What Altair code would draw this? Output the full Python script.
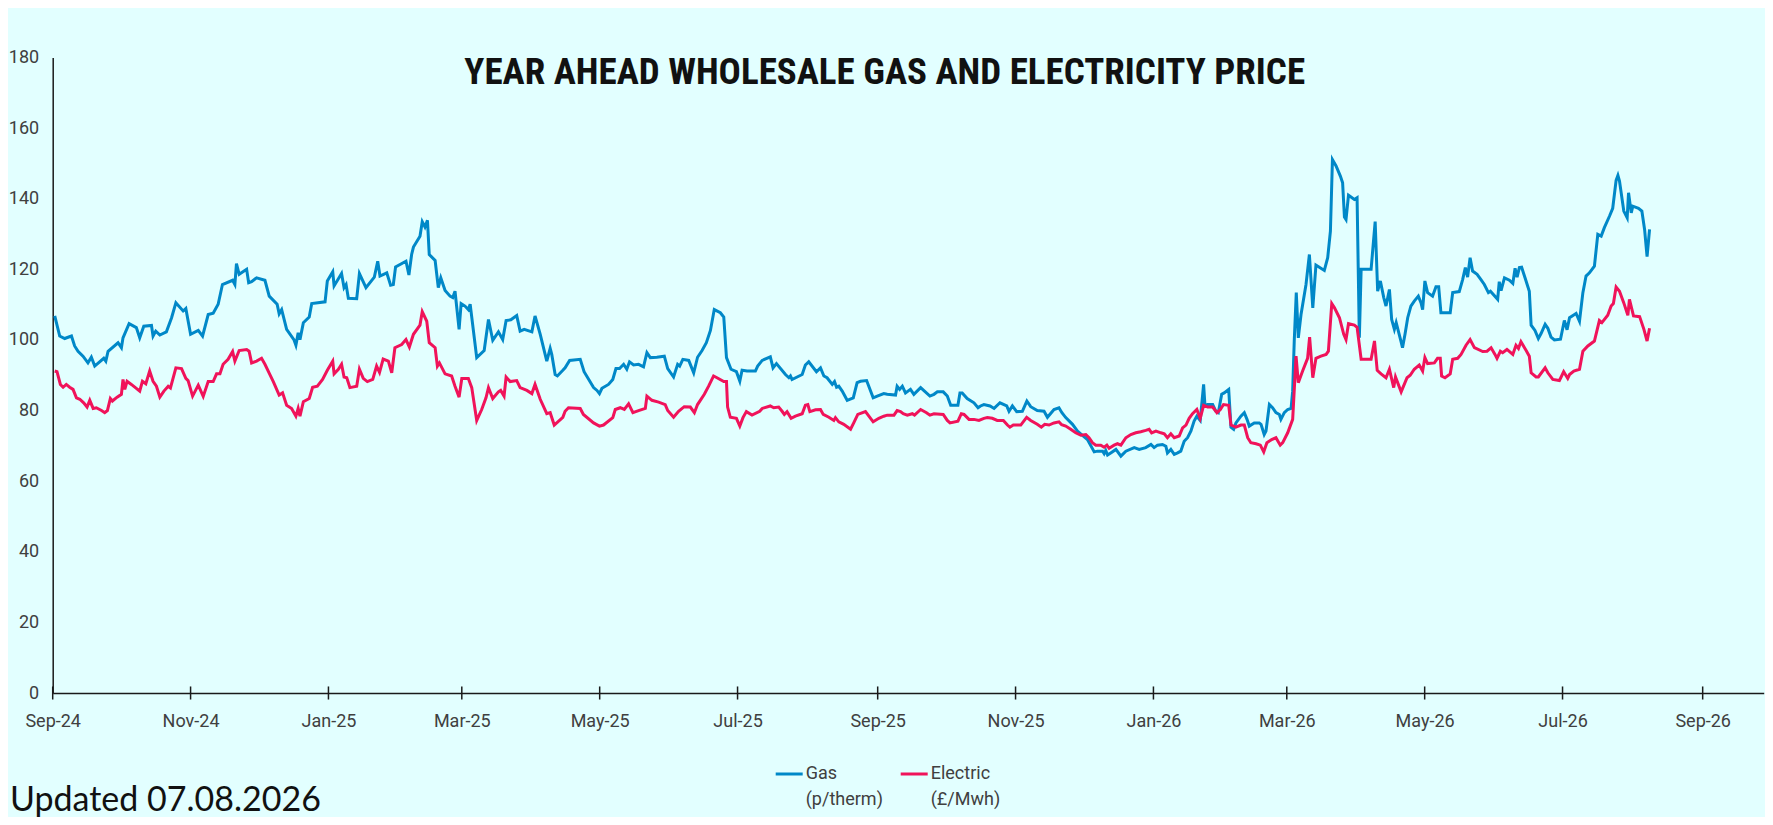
import altair as alt
import pandas as pd

TITLE = ["YEAR AHEAD WHOLESALE GAS AND ELECTRICITY PRICE"]
UPDATED = ["Updated 07.08.2026"]
SERIES = ["Gas", "Electric"]
LEGEND_LABELS = ["Gas\n(p/therm)", "Electric\n(£/Mwh)"]
COLORS = ["#0088C8", "#F0135A"]
Y_TICKS = [0, 20, 40, 60, 80, 100, 120, 140, 160, 180]
X_TICK_MONTHS = [(2024, 9), (2024, 11), (2025, 1), (2025, 3), (2025, 5), (2025, 7),
                 (2025, 9), (2025, 11), (2026, 1), (2026, 3), (2026, 5), (2026, 7), (2026, 9)]
START = "2024-09-01"   # day 0 of the day offsets below

# Gas, p/therm  (days since 2024-09-01, value)
gas_day = [0.9, 3.1, 5.3, 8.3, 9.7, 11.2, 13.4, 15.6, 17.1, 18.6, 22.6, 23.5, 24.5, 28.9, 30.4, 31.1,
           33.8, 37.0, 38.5, 40.3, 43.7, 44.4, 45.6, 47.4, 50.3, 52.6, 54.5, 57.7, 58.9, 61.0, 64.4,
           66.3, 68.8, 71.0, 73.2, 75.1, 79.6, 80.6, 81.3, 82.5, 85.8, 86.7, 88.0, 90.2, 93.9, 95.8,
           99.3, 100.2, 101.3, 103.5, 106.7, 107.6, 108.6, 109.4, 110.9, 113.5, 114.6, 120.5, 121.5,
           123.9, 124.5, 127.8, 128.9, 129.8, 130.8, 134.5, 135.7, 138.6, 142.3, 143.8, 144.8,
           147.8, 149.5, 150.7, 151.7, 156.3, 157.6, 158.8, 159.6, 162.5, 163.5, 164.7, 165.8, 166.6,
           169.2, 170.6, 171.7, 173.6, 175.8, 177.0, 178.0, 179.8, 180.7, 182.4, 183.9, 184.7, 187.6,
           190.9, 192.8, 194.7, 197.2, 199.1, 200.6, 202.7, 205.3, 206.8, 208.6, 212.0, 213.4, 215.7,
           218.6, 220.1, 220.8, 222.3, 223.3, 225.7, 226.7, 228.7, 233.4, 235.1, 239.3, 240.8, 241.9,
           243.0, 245.9, 247.8, 249.2, 250.8, 252.6, 254.0, 255.2, 257.0, 259.2, 261.4, 262.9, 264.4,
           267.3, 270.6, 272.1, 274.7, 276.5, 277.4, 278.8, 281.4, 283.6, 285.3, 287.3, 289.2, 291.0,
           292.7, 295.4, 296.9, 298.1, 300.1, 302.5, 304.0, 305.0, 307.2, 310.9, 311.9, 313.9, 317.5,
           318.7, 320.2, 324.2, 325.7, 326.4, 327.1, 331.6, 333.0, 334.5, 337.9, 339.7, 341.2, 342.6,
           344.9, 345.9, 346.8, 347.8, 349.3, 351.5, 354.2, 355.9, 357.4, 360.1, 363.0, 364.8, 367.7,
           369.2, 372.9, 373.6, 374.7, 375.9, 377.3, 379.5, 381.0, 384.0, 388.1, 389.9, 391.4, 394.0,
           395.8, 397.3, 400.5, 401.4, 402.4, 404.6, 407.6, 409.4, 410.5, 412.0, 414.7, 416.5, 419.1,
           422.1, 423.1, 424.6, 426.5, 429.0, 431.0, 432.7, 435.6, 438.6, 440.1, 443.0, 445.2, 446.5,
           448.2, 451.2, 453.4, 455.6, 457.8, 460.8, 462.2, 464.5, 465.2, 465.9, 466.7, 468.1, 470.4,
           472.6, 474.8, 478.5, 480.7, 483.6, 485.9, 487.3, 488.8, 491.0, 492.5, 493.2, 494.7, 496.2,
           497.7, 499.1, 500.6, 502.1, 503.6, 505.0, 506.2, 507.7, 509.2, 509.8, 511.0, 513.2, 514.6,
           515.7, 517.2, 518.3, 520.3, 521.3, 522.5, 523.5, 525.7, 527.2, 528.4, 529.4, 531.6, 533.8,
           534.6, 536.0, 536.8, 538.3, 539.7, 541.2, 542.7, 543.4, 544.9, 546.4, 547.9, 548.6, 549.3,
           550.2, 551.1, 552.3, 554.5, 556.0, 557.5, 558.9, 560.4, 562.6, 564.1, 565.3, 566.2, 567.8,
           569.7, 570.7, 571.5, 572.2, 573.3, 574.4, 575.9, 577.1, 578.1, 578.9, 583.3, 585.1, 586.2,
           587.4, 588.9, 589.9, 591.4, 592.4, 593.6, 594.4, 596.5, 597.2, 598.3, 599.5, 600.9, 602.4,
           604.2, 605.4, 606.1, 607.1, 608.3, 610.5, 612.0, 613.2, 614.2, 618.3, 619.4, 622.3, 623.8,
           625.0, 626.0, 627.1, 628.2, 630.2, 631.9, 633.4, 635.2, 636.1, 639.3, 640.0, 640.8, 642.3,
           644.5, 646.0, 647.0, 647.9, 648.9, 649.9, 651.4, 653.3, 654.1, 655.8, 657.3, 658.5, 660.3,
           661.5, 662.9, 664.4, 667.1, 668.8, 670.0, 671.1, 673.3, 674.0, 675.5, 677.0, 678.4, 679.9,
           682.1, 683.6, 685.1, 686.5, 688.8, 690.2, 691.7, 692.5, 693.2, 695.1, 696.6, 697.2, 698.4,
           699.1, 701.6, 703.1, 704.3, 705.4, 706.5]
gas_value = [106.8, 101.1, 100.4, 101.1, 98.3, 96.8, 95.4, 93.5, 95.1, 92.6, 94.8, 94.0, 96.8, 99.2, 97.8, 100.6,
             104.6, 103.5, 100.6, 103.9, 104.1, 101.1, 102.5, 101.4, 102.3, 106.3, 110.5, 108.2, 108.9, 101.6, 102.7,
             101.1, 107.2, 107.6, 110.1, 115.7, 116.9, 115.7, 121.6, 118.6, 120.0, 116.2, 116.5, 117.6, 116.9, 112.4,
             110.1, 107.4, 108.6, 103.0, 100.1, 98.5, 102.0, 100.1, 104.9, 106.5, 110.3, 110.8, 116.7,
             119.3, 115.3, 118.8, 114.8, 115.7, 111.8, 111.7, 118.8, 114.8, 117.8, 122.3, 118.1,
             119.0, 115.5, 115.7, 120.7, 122.3, 118.4, 124.2, 126.3, 129.4, 133.5, 132.0, 133.9, 124.2,
             122.5, 114.8, 117.6, 114.0, 112.4, 112.0, 113.8, 103.0, 110.3, 109.6, 108.6, 110.1, 95.0,
             97.0, 105.8, 99.9, 102.3, 100.1, 105.5, 105.7, 106.9, 102.5, 103.0, 102.3, 106.8, 101.6,
             94.0, 97.6, 95.9, 90.2, 89.8, 91.4, 92.1, 94.2, 94.5, 91.0, 86.5, 85.7, 84.8,
             86.3, 87.4, 88.8, 91.9, 91.9, 93.1, 91.7, 93.8, 92.9, 93.1, 92.4, 96.4, 95.0,
             95.1, 95.4, 91.9, 89.5, 93.1, 92.6, 94.5, 94.2, 90.7, 95.1, 97.0, 99.2, 102.7,
             108.6, 107.7, 106.5, 95.0, 91.7, 91.0, 88.3, 91.4, 91.2, 91.2, 92.6, 94.2, 95.2,
             92.1, 93.3, 90.2, 89.3, 89.8, 88.8, 90.2, 92.9, 93.8, 91.0, 92.1, 89.8, 89.3,
             87.4, 88.2, 86.6, 86.9, 85.5, 82.9, 83.6, 87.9, 88.3, 88.5, 83.6, 84.1, 84.8,
             84.6, 84.4, 86.9, 86.0, 86.9, 85.0, 86.0, 84.6, 86.5, 84.1, 84.6, 85.3, 85.3,
             84.1, 81.5, 81.5, 85.0, 85.0, 83.4, 82.2, 80.8, 81.3, 81.7, 81.3, 80.6, 82.2,
             81.3, 79.8, 81.3, 79.7, 79.8, 82.7, 81.1, 80.0, 79.8, 78.1, 80.3, 80.8, 79.4,
             78.0, 76.1, 74.2, 73.0, 71.8, 68.3, 68.5, 68.5, 67.8, 68.7, 67.4, 68.0, 69.0,
             67.1, 68.5, 69.5, 69.0, 69.5, 70.4, 69.5, 70.2, 70.4, 69.9, 68.0, 69.0, 67.6,
             68.0, 68.5, 71.3, 72.3, 74.2, 77.0, 78.4, 77.2, 87.4, 81.3, 81.7, 81.7, 79.8,
             79.4, 84.6, 85.0, 86.0, 75.3, 74.7, 76.5, 78.4, 79.4, 77.5, 75.6, 76.5, 76.5,
             76.1, 73.2, 74.2, 81.7, 80.8, 79.4, 78.9, 77.5, 79.4, 80.3, 80.6, 85.5, 99.7,
             113.4, 100.6, 107.2, 115.7, 124.2, 109.1, 121.2, 120.6, 119.7, 123.3, 130.8, 151.1, 149.3,
             146.4, 144.5, 134.8, 134.1, 141.0, 140.5, 139.8, 140.3, 100.6, 120.0, 120.0, 133.5, 113.8,
             116.7, 112.0, 109.6, 114.3, 105.8, 103.0, 104.9, 99.7, 97.8, 101.6, 106.3, 109.6, 111.0,
             112.4, 110.5, 108.6, 116.7, 113.4, 112.4, 115.1, 115.1, 107.7, 107.7, 113.4, 113.7, 117.1,
             120.5, 117.8, 123.3, 119.5, 118.6, 117.1, 115.7, 113.4, 113.8, 111.5, 116.5, 114.0, 117.6,
             116.9, 116.0, 120.3, 117.8, 120.5, 120.6, 117.6, 113.8, 104.2, 102.7, 100.4, 101.8, 104.4,
             103.3, 100.8, 100.0, 100.2, 105.5, 102.9, 106.3, 107.2, 107.5, 105.3, 113.4, 118.1, 119.0,
             120.9, 129.9, 129.4, 131.8, 135.1, 137.3, 145.2, 146.6, 145.0, 136.5, 134.6, 141.7, 136.0,
             137.9, 137.3, 136.5, 131.3, 123.6, 131.3]

# Electric, GBP/MWh  (days since 2024-09-01, value)
elec_day = [0.9, 1.9, 3.4, 4.6, 6.0, 7.5, 9.0, 10.5, 12.0, 13.7, 15.2, 16.4, 17.9, 19.3, 21.6, 23.0, 24.2,
            25.5, 26.4, 28.5, 30.4, 31.1, 31.9, 32.9, 34.8, 37.0, 38.5, 39.7, 41.2, 42.9, 44.4, 45.9,
            47.4, 49.2, 51.1, 52.1, 54.5, 57.0, 58.9, 59.9, 61.9, 64.4, 66.6, 68.8, 71.0, 72.5, 74.0,
            75.4, 77.6, 79.6, 80.6, 82.5, 85.8, 86.9, 88.0, 90.2, 92.4, 93.9, 96.1, 97.6, 100.2, 101.7,
            103.5, 105.7, 107.6, 108.6, 109.4, 110.9, 113.5, 115.0, 117.1, 119.4, 121.5, 123.9, 124.5,
            126.4, 127.8, 128.9, 130.1, 131.5, 134.5, 135.7, 137.4, 139.2, 141.6, 143.3, 144.6, 146.2,
            148.5, 150.0, 151.4, 154.4, 156.3, 157.8, 159.6, 162.5, 163.5, 165.5, 166.6, 169.2, 170.2,
            171.1, 173.6, 176.5, 178.0, 179.8, 181.0, 183.9, 185.4, 187.6, 189.8, 191.7, 192.8, 194.7,
            197.2, 198.2, 199.7, 200.6, 202.4, 205.3, 206.8, 209.8, 212.0, 213.4, 215.7, 218.6, 220.1,
            221.9, 225.7, 226.7, 228.2, 233.4, 234.8, 239.3, 241.9, 243.7, 247.8, 248.9, 251.1, 252.9,
            254.8, 256.7, 259.2, 262.2, 262.9, 265.1, 268.1, 271.0, 272.1, 274.7, 276.9, 279.4, 282.1,
            283.9, 285.3, 288.3, 290.2, 292.4, 293.9, 296.9, 298.1, 298.6, 299.8, 302.5, 304.0, 305.4,
            306.9, 309.4, 312.8, 313.9, 317.5, 319.0, 321.2, 322.7, 323.7, 324.9, 326.7, 328.6, 331.6,
            333.0, 334.1, 335.0, 337.5, 339.7, 340.9, 343.4, 345.6, 346.3, 347.8, 350.0, 353.0, 354.4,
            356.2, 359.6, 363.0, 365.5, 367.7, 369.2, 372.2, 373.6, 375.1, 376.3, 378.1, 380.3, 381.3,
            384.0, 386.6, 388.1, 389.9, 394.0, 395.8, 397.0, 400.5, 402.0, 403.2, 405.4, 407.6, 409.8,
            412.0, 413.5, 415.7, 417.9, 420.6, 422.4, 423.5, 425.0, 428.3, 430.9, 432.7, 435.6, 437.4,
            438.9, 440.8, 443.0, 445.2, 446.4, 448.2, 450.4, 452.6, 454.9, 457.1, 458.5, 460.0, 461.5,
            463.7, 465.2, 466.4, 467.4, 469.6, 471.1, 472.6, 474.8, 477.0, 479.2, 481.4, 483.6, 485.1,
            486.2, 488.1, 490.3, 491.8, 493.2, 494.7, 496.2, 498.4, 499.9, 501.4, 502.8, 504.3, 506.2,
            507.7, 509.2, 511.0, 513.2, 515.1, 516.6, 518.0, 520.3, 521.3, 523.5, 525.7, 527.2, 528.7,
            530.1, 532.4, 534.3, 535.8, 537.2, 539.3, 541.2, 543.1, 544.2, 546.4, 548.6, 550.1, 551.1,
            553.0, 555.2, 556.1, 557.5, 558.9, 561.1, 563.4, 564.4, 565.9, 567.1, 569.3, 571.2, 572.2,
            573.3, 575.9, 577.1, 578.9, 583.3, 584.8, 586.0, 587.7, 589.9, 591.4, 593.3, 594.1, 596.6,
            599.2, 600.6, 602.4, 604.6, 606.1, 607.1, 608.3, 611.3, 612.7, 613.9, 614.5, 616.0, 618.3,
            619.4, 621.6, 623.1, 625.3, 627.1, 629.0, 632.7, 634.6, 636.4, 638.1, 639.0, 640.5, 641.5,
            643.4, 646.0, 647.4, 648.5, 649.6, 651.9, 653.3, 654.1, 656.3, 657.3, 660.3, 661.5, 663.7,
            666.6, 668.5, 670.3, 671.1, 673.0, 675.5, 677.0, 679.2, 682.1, 684.3, 685.4, 688.0, 689.5,
            690.5, 691.7, 693.2, 695.1, 696.9, 697.6, 699.4, 702.1, 704.0, 705.4, 706.5]
elec_value = [91.2, 91.0, 87.4, 86.6, 87.4, 86.6, 86.0, 83.6, 83.2, 82.2, 81.0, 82.9, 80.6, 80.8, 80.0, 79.4, 80.0,
              83.4, 82.7, 83.8, 84.6, 88.8, 86.0, 88.3, 87.4, 86.3, 85.5, 88.3, 87.6, 91.2, 88.3, 86.9,
              83.8, 85.5, 86.9, 86.4, 92.1, 91.9, 89.1, 88.5, 84.1, 87.2, 84.0, 88.2, 88.2, 90.4, 90.4,
              93.1, 94.5, 96.7, 94.0, 97.0, 97.3, 96.8, 93.5, 94.0, 94.8, 93.1, 90.2, 88.2, 84.4, 85.0,
              81.5, 80.6, 78.4, 80.6, 78.4, 82.5, 83.4, 86.6, 86.9, 88.8, 91.4, 94.0, 90.4,
              91.7, 93.1, 89.5, 89.3, 86.5, 86.9, 91.7, 89.1, 88.2, 88.8, 92.6, 90.8, 94.6,
              94.0, 90.7, 97.8, 98.7, 100.1, 98.0, 101.6, 104.2, 108.0, 105.3, 99.2, 97.8, 92.6,
              93.5, 90.4, 89.8, 86.9, 83.8, 89.1, 89.1, 86.5, 77.2, 80.3, 83.6, 86.5, 83.4,
              85.3, 85.7, 84.1, 89.5, 88.2, 88.5, 86.5, 85.7, 84.8, 87.4, 83.2, 79.1, 79.4,
              75.9, 78.1, 79.8, 80.8, 80.6, 78.9, 76.5, 75.6, 75.9, 78.0, 80.3, 80.8, 80.3,
              81.9, 79.4, 80.0, 80.6, 84.1, 82.9, 82.4, 81.7, 80.0, 78.1, 79.8, 81.1, 81.0,
              79.4, 81.7, 84.6, 86.9, 89.8, 89.3, 88.2, 88.2, 81.0, 78.1, 77.8, 75.6, 78.0,
              79.7, 78.7, 79.8, 80.6, 81.3, 80.8, 81.0, 79.8, 78.9, 79.7, 77.8, 78.4, 79.1,
              81.5, 81.7, 79.7, 80.2, 80.3, 78.9, 78.1, 77.2, 78.0, 76.8, 76.1, 74.7, 76.5,
              78.9, 79.7, 76.8, 77.8, 78.4, 78.7, 78.7, 80.0, 79.7, 79.1, 78.7, 79.1, 78.7,
              80.3, 79.4, 78.7, 79.1, 78.9, 77.2, 76.5, 77.0, 79.1, 78.9, 77.5, 77.5, 77.2,
              77.8, 78.0, 77.8, 77.2, 77.2, 75.9, 75.3, 75.9, 75.9, 78.1, 77.2, 76.1, 75.3,
              76.1, 75.9, 76.5, 76.8, 76.0, 75.6, 74.7, 73.7, 73.0, 73.2, 72.3, 70.9, 70.2,
              70.2, 69.6, 70.2, 69.3, 70.2, 70.6, 70.2, 72.3, 73.2, 73.7, 74.0, 74.4, 74.7,
              73.7, 74.2, 73.7, 73.4, 72.3, 73.4, 72.3, 72.8, 75.1, 75.9, 77.8, 79.1, 80.3,
              77.8, 81.5, 81.0, 81.0, 79.4, 80.3, 81.7, 81.5, 75.9, 75.3, 75.9, 75.9, 72.3,
              70.9, 70.6, 70.2, 68.3, 70.9, 71.8, 72.3, 70.2, 70.9, 73.7, 77.5, 95.4, 87.9,
              91.2, 94.8, 100.8, 89.3, 94.8, 95.4, 95.9, 96.8, 110.3, 109.1, 106.3, 101.6, 100.1,
              104.6, 104.2, 103.6, 94.5, 94.5, 99.7, 91.4, 90.4, 89.3, 91.7, 86.5, 89.5, 85.3,
              89.3, 90.0, 91.7, 92.9, 91.2, 95.0, 93.3, 93.5, 94.8, 94.8, 89.8, 89.3, 90.4,
              94.5, 94.8, 95.9, 98.5, 100.1, 97.8, 96.7, 96.8, 97.8, 95.9, 94.8, 96.8, 96.4,
              97.3, 95.9, 98.5, 97.6, 99.5, 97.0, 95.4, 90.7, 89.5, 89.5, 92.1, 90.7, 88.8,
              88.5, 91.0, 89.1, 90.2, 91.2, 91.7, 96.8, 98.3, 99.7, 105.5, 104.9, 107.0, 109.6,
              110.3, 115.0, 113.8, 110.5, 107.0, 111.5, 106.8, 106.6, 103.0, 99.7, 103.3]

origin = pd.Timestamp(START)
gas = pd.DataFrame({"date": origin + pd.to_timedelta(gas_day, unit="D"),
                    "value": gas_value, "series": SERIES[0]})
elec = pd.DataFrame({"date": origin + pd.to_timedelta(elec_day, unit="D"),
                     "value": elec_value, "series": SERIES[1]})
lines_df = pd.concat([gas, elec], ignore_index=True)
ticks_df = pd.DataFrame({"date": [pd.Timestamp(year=y, month=m, day=1) for y, m in X_TICK_MONTHS]})
title_df = pd.DataFrame({"t": TITLE})
updated_df = pd.DataFrame({"t": UPDATED})

PLOT_W = 1711
PLOT_H = 635.5
AXIS_FONT = "Roboto"
LABEL_COLOR = "#404040"
AXIS_COLOR = "#1a1a1a"

x_scale = alt.Scale(domain=[alt.DateTime(year=2024, month=9, date=1),
                            alt.DateTime(year=2026, month=9, date=28)])
y_scale = alt.Scale(domain=[0, 180], nice=False)

x_axis = alt.Axis(format="%b-%y", values=[alt.DateTime(year=y, month=m, date=1) for y, m in X_TICK_MONTHS],
                  title=None, grid=False, ticks=False, labelFlush=False, labelOverlap=False,
                  labelFont=AXIS_FONT, labelFontSize=18, labelColor=LABEL_COLOR, labelPadding=19,
                  domainColor=AXIS_COLOR, domainWidth=1.5)
y_axis = alt.Axis(values=Y_TICKS, title=None, grid=False, ticks=False,
                  labelFont=AXIS_FONT, labelFontSize=18, labelColor=LABEL_COLOR, labelPadding=14,
                  domainColor=AXIS_COLOR, domainWidth=1.5)

lines = alt.Chart(lines_df).mark_line(strokeWidth=3).encode(
    x=alt.X("date:T", scale=x_scale, axis=x_axis),
    y=alt.Y("value:Q", scale=y_scale, axis=y_axis),
    color=alt.Color("series:N", scale=alt.Scale(domain=SERIES, range=COLORS), legend=None),
)

tick_marks = alt.Chart(ticks_df).mark_rule(color=AXIS_COLOR, strokeWidth=1.5).encode(
    x=alt.X("date:T", scale=x_scale),
    y=alt.datum(-1.85),
    y2=alt.datum(1.85),
)

title = alt.Chart(title_df).mark_text(
    font="Roboto Condensed, Liberation Sans Narrow, DejaVu Sans Condensed, sans-serif",
    fontWeight="bold", fontSize=37, color="#111111", align="center", baseline="alphabetic",
).encode(text="t:N", x=alt.value(832), y=alt.value(26.5))

updated = alt.Chart(updated_df).mark_text(
    font="Lato", fontSize=34, color="#111111", align="left", baseline="alphabetic",
).encode(text="t:N", x=alt.value(-42.7), y=alt.value(753.2))

# legend (drawn as guide furniture: swatch + two-line label per series)
legend_layers = []
LEG_SWATCH_X = [723, 848]
for i, name in enumerate(SERIES):
    one = pd.DataFrame({"series": [name], "label": [LEGEND_LABELS[i]]})
    legend_layers.append(
        alt.Chart(one).mark_rule(color=COLORS[i], strokeWidth=3).encode(
            x=alt.value(LEG_SWATCH_X[i]), x2=alt.value(LEG_SWATCH_X[i] + 27), y=alt.value(716.5)))
    legend_layers.append(
        alt.Chart(one).mark_text(font=AXIS_FONT, fontSize=18, color=LABEL_COLOR, align="left",
                                 baseline="middle", lineBreak="\n", lineHeight=26).encode(
            text="label:N", x=alt.value(LEG_SWATCH_X[i] + 30), y=alt.value(716.5)))

chart = alt.layer(lines, tick_marks, title, updated, *legend_layers).properties(
    width=PLOT_W, height=PLOT_H,
    autosize=alt.AutoSizeParams(type="none"),
    padding={"left": 44.7, "top": 49.5, "right": 1.3, "bottom": 124},
    background="#E2FFFF",
).configure_view(stroke=None)

chart.save("out.html", embed_options={"renderer": "svg", "actions": False})
